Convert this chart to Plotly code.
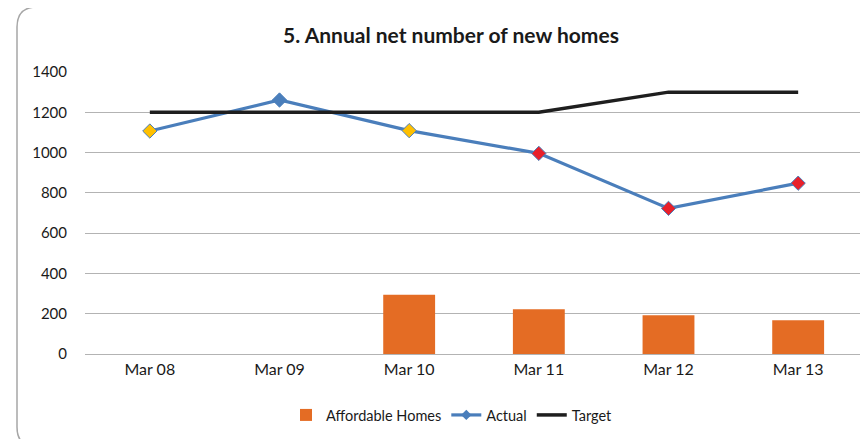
import plotly.graph_objects as go

categories = ["Mar 08", "Mar 09", "Mar 10", "Mar 11", "Mar 12", "Mar 13"]
affordable = [None, None, 294, 222, 192, 167]
actual = [1107, 1261, 1109, 996, 723, 848]
target = [1200, 1200, 1200, 1200, 1300, 1300]
actual_marker_colors = ["#FFC000", "#4A7EBB", "#FFC000", "#E8202A", "#E8202A", "#E8202A"]
y_ticks = [0, 200, 400, 600, 800, 1000, 1200, 1400]

W, H = 868, 439
OFF = 8  # page body margin offset
ML, MT = 85 - OFF, 72 - OFF
MR = W - (863 - OFF)
MB = H - (354 - OFF)
pw, ph = W - ML - MR, H - MT - MB

def px(x):
    return (x - OFF - ML) / pw

def py(y):
    return (H - MB - (y - OFF)) / ph

FONT = "Lato, Carlito, 'Open Sans', sans-serif"

fig = go.Figure()
fig.add_trace(go.Bar(x=categories, y=affordable, name="Affordable Homes",
                     marker=dict(color="#E46C24", line=dict(width=0))))
fig.add_trace(go.Scatter(x=categories, y=actual, name="Actual", mode="lines+markers",
                         showlegend=False, legendgroup="a",
                         line=dict(color="#4A7EBB", width=3.2),
                         marker=dict(symbol="diamond", size=11, color=actual_marker_colors,
                                     line=dict(color="#4A7EBB", width=1))))
fig.add_trace(go.Scatter(x=[None], y=[None], name="Actual", mode="lines+markers",
                         legendgroup="a",
                         line=dict(color="#4A7EBB", width=3.2),
                         marker=dict(symbol="diamond", size=8, color="#4A7EBB")))
fig.add_trace(go.Scatter(x=categories, y=target, name="Target", mode="lines",
                         line=dict(color="#1E1E1E", width=3.5)))

# rounded chart-area border
x0, y0, x1, y1, r = 17, 7, 885, 447, 20
path = (f"M {px(x0)} {py(y0 + r)} "
        f"Q {px(x0)} {py(y0)} {px(x0 + r)} {py(y0)} "
        f"L {px(x1 - r)} {py(y0)} Q {px(x1)} {py(y0)} {px(x1)} {py(y0 + r)} "
        f"L {px(x1)} {py(y1 - r)} Q {px(x1)} {py(y1)} {px(x1 - r)} {py(y1)} "
        f"L {px(x0 + r)} {py(y1)} Q {px(x0)} {py(y1)} {px(x0)} {py(y1 - r)} Z")
fig.add_shape(type="path", path=path, xref="paper", yref="paper",
              line=dict(color="#A6A6A6", width=1.5), layer="below")

fig.update_layout(
    width=W, height=H,
    margin=dict(l=ML, r=MR, t=MT, b=MB),
    paper_bgcolor="white", plot_bgcolor="white",
    font=dict(family=FONT, size=14, color="#1A1A1A"),
    title=dict(text="<b>5. Annual net number of new homes</b>", xref="container",
               x=(451 - OFF) / W, xanchor="center",
               y=1 - (36 - OFF) / H, yanchor="middle",
               font=dict(size=21, family=FONT, color="#1A1A1A")),
    bargap=0.6,
    showlegend=True,
    legend=dict(orientation="h", x=px(452), xanchor="center", y=py(415), yanchor="middle",
                font=dict(size=14.5, family=FONT), itemwidth=30, tracegroupgap=0),
    xaxis=dict(showgrid=False, showline=False, ticks="outside", ticklen=1, tickcolor="white",
               tickfont=dict(size=16)),
    yaxis=dict(range=[0, 1400], tickvals=y_ticks, showgrid=True, gridcolor="#B3B3B3",
               gridwidth=1, zeroline=True, zerolinecolor="#B3B3B3", zerolinewidth=1,
               ticks="outside", ticklen=14, tickcolor="white", tickfont=dict(size=15)),
)

fig.write_html("out.html")
